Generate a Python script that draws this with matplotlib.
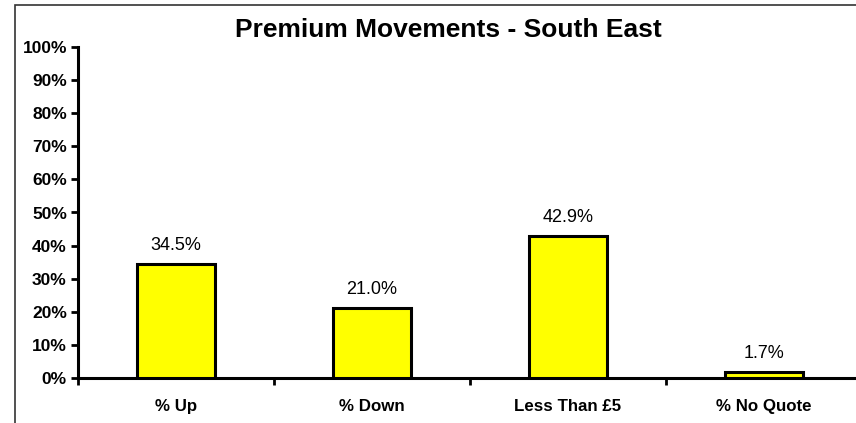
import matplotlib
matplotlib.use("Agg")
import matplotlib.pyplot as plt
from matplotlib.patches import Rectangle
from matplotlib.ticker import FixedLocator, NullFormatter

categories = ["% Up", "% Down", "Less Than £5", "% No Quote"]
values = [34.5, 21.0, 42.9, 1.7]
yticks = [0, 10, 20, 30, 40, 50, 60, 70, 80, 90, 100]
title = "Premium Movements - South East"

plt.rcParams["font.family"] = ["Liberation Sans", "DejaVu Sans"]

W, H = 856, 423
fig = plt.figure(figsize=(W / 100, H / 100), dpi=100)

# Chart area frame (runs off the right and bottom edges)
fig.patches.append(Rectangle((15 / W, -0.1), 1.2, (H - 5) / H + 0.1,
                             transform=fig.transFigure, fill=False,
                             edgecolor="#333333", linewidth=1.2))

# Plot area: 4 categories of ~196 px starting at x=78
left, right = 78, 78 + 4 * 196
top, bottom = 47, 378
ax = fig.add_axes([left / W, (H - bottom) / H, (right - left) / W, (bottom - top) / H])

x = list(range(len(categories)))
ax.bar(x, values, width=0.40, color="#FFFF00", edgecolor="black", linewidth=2.2, zorder=3)

for xi, v in zip(x, values):
    ax.text(xi, v + 4.3, f"{v:.1f}%", ha="center", va="baseline", fontsize=13)

ax.set_xlim(-0.5, len(categories) - 0.5)
ax.set_ylim(0, 100)
ax.set_yticks(yticks)
ax.set_yticklabels([f"{t}%" for t in yticks], fontsize=12.5, fontweight="bold")

ax.xaxis.set_major_locator(FixedLocator([i + 0.5 for i in range(-1, len(categories))]))
ax.xaxis.set_major_formatter(NullFormatter())
ax.xaxis.set_minor_locator(FixedLocator(x))
ax.set_xticklabels(categories, minor=True, fontsize=12.2, fontweight="bold")
ax.tick_params(axis="x", which="minor", length=0, pad=15)
ax.tick_params(axis="x", which="major", length=5, width=2, direction="out")
ax.tick_params(axis="y", length=5, width=2, direction="out", pad=3)

for s in ("top", "right"):
    ax.spines[s].set_visible(False)
for s in ("left", "bottom"):
    ax.spines[s].set_linewidth(2.2)
ax.patch.set_alpha(0)

fig.text(448 / W, 1 - 30 / H, title, ha="center", va="center",
         fontsize=19, fontweight="bold")

fig.savefig("out.png", dpi=100, facecolor="white")
